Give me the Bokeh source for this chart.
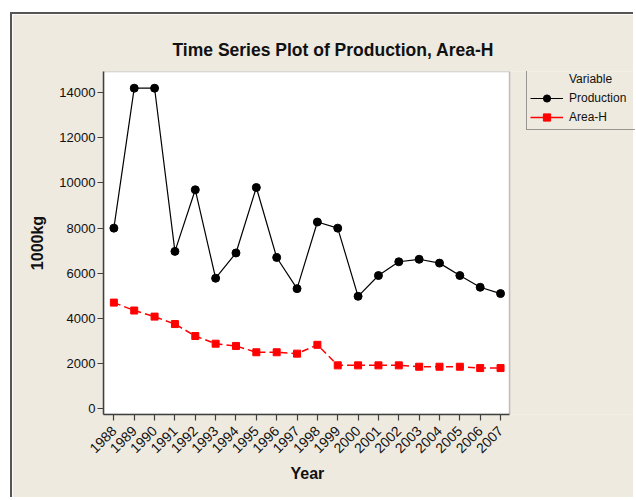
import numpy as np
from bokeh.plotting import figure
from bokeh.models import Range1d, FixedTicker, Legend, LegendItem, BoxAnnotation, Title
from bokeh.embed import file_html
from bokeh.resources import INLINE

# ---- data ----
years = list(range(1988, 2008))
production = [8000, 14200, 14200, 6970, 9700, 5780, 6900, 9800, 6700, 5320,
              8270, 8000, 4980, 5900, 6510, 6620, 6450, 5900, 5380, 5100]
area_h = [4700, 4350, 4080, 3750, 3220, 2880, 2780, 2500, 2500, 2440,
          2830, 1920, 1920, 1920, 1920, 1860, 1860, 1860, 1800, 1800]
y_ticks = [0, 2000, 4000, 6000, 8000, 10000, 12000, 14000]
series_names = ["Production", "Area-H"]
legend_title = "Variable"
title_text = "Time Series Plot of Production, Area-H"
x_label = "Year"
y_label = "1000kg"

BG = "#EEEAE0"
DARK = "#404040"
FONT = "Liberation Sans"

# layout (pixels)
W, H = 623, 485
LEFT, TOP, BOTTOM = 91, 57, 85
DATA_W = 406                      # width of the white data area
X0, X1 = 1987.49, 2007.44         # visible year span of the data area
Y0, Y1 = -257, 14940
frame_w = W - LEFT
x_end = X0 + (X1 - X0) * frame_w / DATA_W

p = figure(width=W, height=H, output_backend="svg", toolbar_location=None,
           x_range=Range1d(X0, x_end), y_range=Range1d(Y0, Y1),
           min_border_left=LEFT, min_border_top=TOP, min_border_right=0, min_border_bottom=BOTTOM,
           background_fill_color=BG, border_fill_color=BG, outline_line_color=None)
p.margin = (12, 0, 0, 10)
p.styles = {"border-top": "2px solid #555555", "border-left": "2px solid #555555"}
p.grid.visible = False

# white data area with dark frame
p.add_layout(BoxAnnotation(left=X0, right=X1, bottom=Y0, top=Y1, fill_color="white",
                           fill_alpha=1, line_color=DARK, line_width=1.5, level="underlay"))

# title
p.title.text = title_text
p.title.align = "left"
p.title.offset = 69
p.title.standoff = 23
p.title.text_font = FONT
p.title.text_font_size = "17.5px"
p.title.text_font_style = "bold"
p.title.text_color = "#111111"

# series
r_prod_line = p.line(years, production, line_color="black", line_width=1.2)
r_prod_pts = p.scatter(years, production, marker="circle", size=8, color="black")
r_area_line = p.line(years, area_h, line_color="red", line_width=1.5, line_dash="7 4")
r_area_pts = p.scatter(years, area_h, marker="square", size=7, color="red")

# legend helpers (no visible data)
r_dummy = p.line([np.nan], [np.nan], line_alpha=0)
r_red_leg = p.line([np.nan], [np.nan], line_color="red", line_width=1.5)

legend = Legend(items=[LegendItem(label=legend_title, renderers=[r_dummy]),
                       LegendItem(label=series_names[0], renderers=[r_prod_line, r_prod_pts]),
                       LegendItem(label=series_names[1], renderers=[r_red_leg, r_area_pts])],
                location=(423, 284), orientation="vertical",
                border_line_color=DARK, border_line_width=1.2, background_fill_alpha=0,
                padding=3, margin=0, spacing=1, glyph_width=33, glyph_height=18,
                label_height=18, label_width=64, label_standoff=6,
                label_text_font_size="12px", label_text_font=FONT, label_text_color="#111111")
p.add_layout(legend)

# axes
p.xaxis.ticker = FixedTicker(ticks=years)
p.yaxis.ticker = FixedTicker(ticks=y_ticks)
p.xaxis.bounds = (X0, X1)
p.xaxis.major_label_orientation = np.pi / 4
for ax in (p.xaxis[0], p.yaxis[0]):
    ax.minor_tick_line_color = None
    ax.major_tick_out = 6
    ax.major_tick_in = 0
    ax.major_tick_line_color = DARK
    ax.major_tick_line_width = 1.2
    ax.axis_line_color = DARK
    ax.axis_line_width = 1.5
    ax.major_label_text_font = FONT
    ax.major_label_text_font_size = "13px"
    ax.major_label_text_color = "#111111"
    ax.axis_label_text_font = FONT
    ax.axis_label_text_font_size = "16px"
    ax.axis_label_text_font_style = "bold"
    ax.axis_label_text_color = "#111111"
p.xaxis.major_label_text_font_size = "14px"
p.xaxis.major_label_standoff = 8
p.yaxis.axis_label = y_label
p.yaxis.major_label_standoff = 2
p.yaxis.axis_label_standoff = 10

# x-axis title, centred under the data area
p.add_layout(Title(text=x_label, align="left", offset=187, standoff=5, text_font=FONT,
                   text_font_size="16px", text_font_style="bold", text_color="#111111"), "below")

open("out.html", "w").write(file_html(p, INLINE))
